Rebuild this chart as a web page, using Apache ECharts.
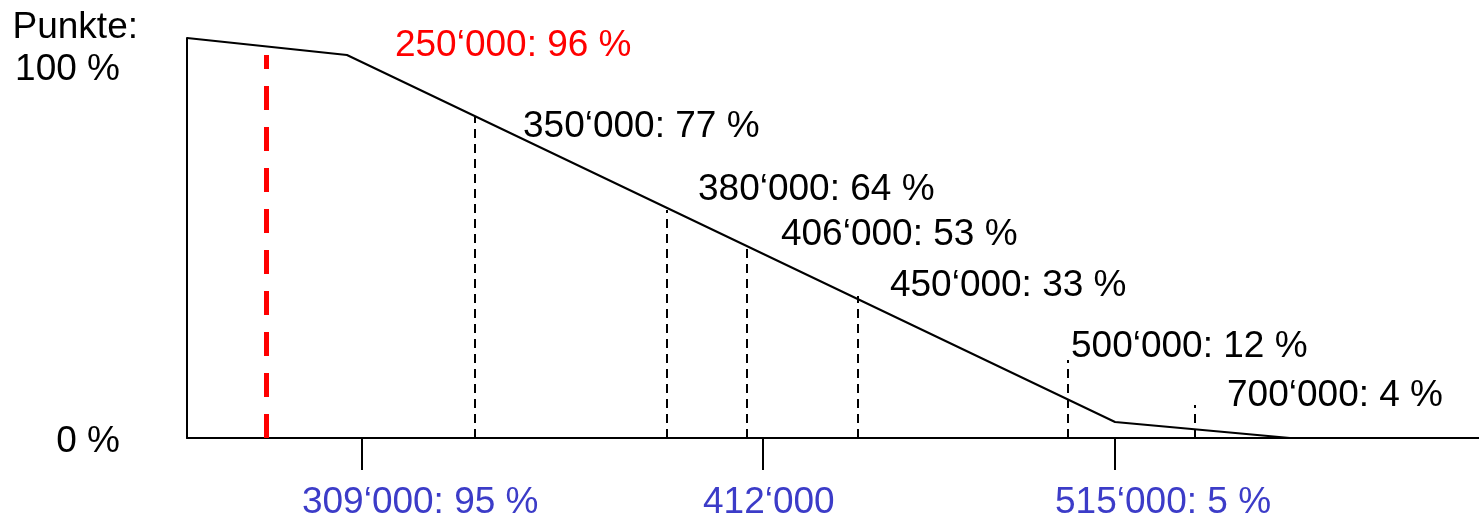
<!DOCTYPE html>
<html>
<head>
<meta charset="utf-8">
<script src="https://cdn.jsdelivr.net/npm/echarts@6/dist/echarts.min.js"></script>
<style>
  html, body { margin: 0; padding: 0; background: #fff; }
  #main { width: 1479px; height: 519px; }
</style>
</head>
<body>
<div id="main"></div>
<script>
// x is a schematic position (0..100 along the axis), the drawing is not to scale
var curveX = [0, 12.38, 71.83, 85.37];
var curveY = [100, 95.75, 4, 0];

// marked incomes: position, height of the dashed line, text
var markX = [6.11, 22.29, 37.15, 43.34, 51.93, 68.19, 78.02];
var markTop = [95.75, 80.25, 57, 47.75, 35.5, 19.5, 8.25];
var markText = ['250‘000: 96 %', '350‘000: 77 %', '380‘000: 64 %', '406‘000: 53 %',
  '450‘000: 33 %', '500‘000: 12 %', '700‘000: 4 %'];

// ticks below the axis
var tickX = [13.54, 44.58, 71.83];
var tickText = ['309‘000: 95 %', '412‘000', '515‘000: 5 %'];

// label offsets (px) from the top of each dashed line
var labelOffset = [[129, -9], [48, 10], [31, -20], [34, -12], [32, -10], [3, -13], [32, -9]];
// tick labels start ~60px left of their tick (in axis units)
var tickLabelShift = 60 / 12.92;
var tickLabelX = tickX.map(function (x) { return x - tickLabelShift; });

var FONT = 'Liberation Sans, Arial, sans-serif';
var myChart = echarts.init(document.getElementById('main'));

var markLines = markX.map(function (x, i) {
  var red = i === 0;
  return [
    { coord: [x, 0], lineStyle: red ? { color: '#ff0000', width: 5, type: [24, 17] } : { color: '#000', width: 2, type: [9, 6] } },
    { coord: [x, markTop[i]] }
  ];
});

myChart.setOption({
  animation: false,
  grid: { left: 187, right: 0, top: 38, bottom: 81, outerBoundsMode: 'none' },
  xAxis: {
    type: 'value', min: 0, max: 100,
    splitLine: { show: false },
    axisLine: { lineStyle: { color: '#000', width: 2 } },
    axisTick: { customValues: tickX, length: 32, lineStyle: { color: '#000', width: 2 } },
    axisLabel: {
      customValues: tickLabelX, margin: 46, align: 'left',
      color: '#3c3cc8', fontSize: 37, fontFamily: FONT,
      formatter: function (v) {
        var i = tickLabelX.indexOf(v);
        return i >= 0 ? tickText[i] : '';
      }
    }
  },
  yAxis: {
    type: 'value', min: 0, max: 100,
    splitLine: { show: false },
    axisLine: { show: true, lineStyle: { color: '#000', width: 2 } },
    axisTick: { show: false },
    name: 'Punkte:', nameLocation: 'end', nameGap: 10,
    nameTextStyle: { color: '#000', fontSize: 37, fontFamily: FONT, align: 'right', verticalAlign: 'middle', padding: [0, 49, 0, 0] },
    axisLabel: {
      customValues: [0, 100], margin: 67,
      color: '#000', fontSize: 37, fontFamily: FONT,
      formatter: function (v) { return v === 100 ? '{top|100 %}' : '{bot|0 %}'; },
      rich: {
        top: { fontSize: 37, fontFamily: FONT, color: '#000', padding: [64, 0, 0, 0] },
        bot: { fontSize: 37, fontFamily: FONT, color: '#000', padding: [8, 0, 0, 0] }
      }
    }
  },
  series: [
    {
      type: 'line',
      data: curveX.map(function (x, i) { return [x, curveY[i]]; }),
      symbol: 'none',
      lineStyle: { color: '#000', width: 2 },
      markLine: { silent: true, symbol: 'none', label: { show: false }, data: markLines }
    },
    {
      type: 'scatter',
      symbolSize: 0,
      silent: true,
      itemStyle: { opacity: 1 },
      data: markX.map(function (x, i) {
        return {
          value: [x, markTop[i]],
          label: {
            show: true, formatter: markText[i], opacity: 1,
            position: labelOffset[i], align: 'left', verticalAlign: 'middle',
            color: i === 0 ? '#ff0000' : '#000', fontSize: 37, fontFamily: FONT
          }
        };
      })
    }
  ]
});
</script>
</body>
</html>
